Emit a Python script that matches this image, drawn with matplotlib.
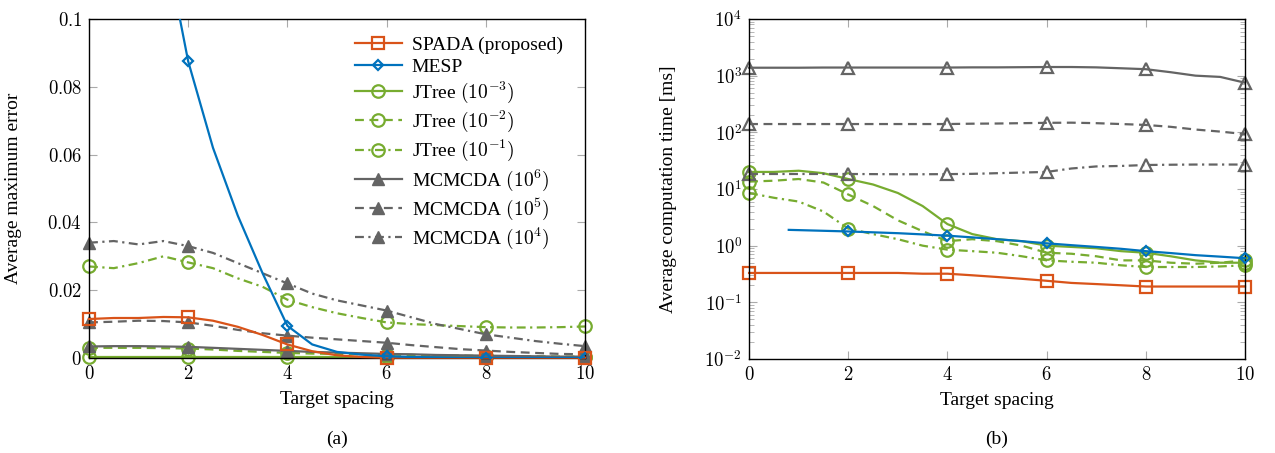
import numpy as np
import matplotlib
matplotlib.use("Agg")
import matplotlib.pyplot as plt
from matplotlib.ticker import FixedLocator, LogLocator, NullFormatter

plt.rcParams['font.family'] = ['Liberation Serif', 'DejaVu Serif']
plt.rcParams['mathtext.fontset'] = 'cm'
plt.rcParams['font.size'] = 14

# colores estilo MATLAB
c_spada = '#D95319'
c_mesp = '#0072BD'
c_jtree = '#77AC30'
c_mcmc = '#646464'

# eje x comun (paso 0.5, marcadores cada 2)
x = [0, 0.5, 1, 1.5, 2, 2.5, 3, 3.5, 4, 4.5, 5, 5.5, 6, 6.5, 7, 7.5, 8, 8.5, 9, 9.5, 10]

# (a) error maximo promedio
err_spada = [0.0115, 0.0118, 0.0118, 0.0121, 0.0120, 0.0110, 0.0092, 0.0068, 0.0040, 0.0020, 0.0008, 0.0003, 0.0001,
             0.0001, 0.0001, 0.0001, 0.0001, 0.0001, 0.0001, 0.0001, 0.0001]
err_mesp = [0.30, 0.24, 0.18, 0.125, 0.0875, 0.062, 0.042, 0.025, 0.0095, 0.0040, 0.0018, 0.0010, 0.0005,
            0.0003, 0.0002, 0.0001, 0.0001, 0.0001, 0.0001, 0.0001, 0.0001]
err_jt3 = [0.0002] * 21
err_jt2 = [0.0030, 0.0030, 0.0030, 0.0029, 0.0028, 0.0025, 0.0021, 0.0018, 0.0015, 0.0013, 0.0012, 0.0011, 0.0010,
           0.0009, 0.0008, 0.0007, 0.0006, 0.0005, 0.0005, 0.0004, 0.0004]
err_jt1 = [0.0270, 0.0265, 0.0280, 0.0300, 0.0282, 0.0265, 0.0235, 0.0210, 0.0172, 0.0150, 0.0132, 0.0118, 0.0105,
           0.0100, 0.0097, 0.0094, 0.0091, 0.0090, 0.0090, 0.0091, 0.0093]
err_mc6 = [0.0034, 0.0035, 0.0035, 0.0034, 0.0033, 0.0030, 0.0027, 0.0024, 0.0021, 0.0018, 0.0016, 0.0014, 0.0012,
           0.0011, 0.0009, 0.0008, 0.0007, 0.0006, 0.0005, 0.0004, 0.0004]
err_mc5 = [0.0105, 0.0107, 0.0110, 0.0109, 0.0105, 0.0095, 0.0083, 0.0073, 0.0066, 0.0060, 0.0055, 0.0050, 0.0045,
           0.0038, 0.0032, 0.0026, 0.0022, 0.0018, 0.0015, 0.0012, 0.0011]
err_mc4 = [0.0340, 0.0345, 0.0335, 0.0345, 0.0330, 0.0310, 0.0280, 0.0250, 0.0220, 0.0190, 0.0170, 0.0155, 0.0140,
           0.0120, 0.0100, 0.0085, 0.0070, 0.0060, 0.0050, 0.0042, 0.0035]

# (b) tiempo de computo promedio [ms]
t_spada = [0.33, 0.33, 0.33, 0.33, 0.33, 0.33, 0.33, 0.32, 0.32, 0.30, 0.28, 0.26, 0.24,
           0.22, 0.21, 0.20, 0.19, 0.19, 0.19, 0.19, 0.19]
x_mesp_t = [0.8, 1, 1.5, 2, 2.5, 3, 3.5, 4, 4.5, 5, 5.5, 6, 6.5, 7, 7.5, 8, 8.5, 9, 9.5, 10]
t_mesp = [1.9, 1.88, 1.83, 1.78, 1.72, 1.66, 1.58, 1.50, 1.40, 1.30, 1.20, 1.10, 1.02, 0.95, 0.88, 0.80,
          0.74, 0.68, 0.64, 0.60]
t_jt3 = [20, 20, 21, 19, 15, 12, 8.5, 5.0, 2.4, 1.6, 1.3, 1.2, 1.0, 0.95, 0.90, 0.80, 0.75, 0.65, 0.55, 0.50, 0.50]
t_jt2 = [13.5, 14, 15, 13, 8.0, 5.0, 2.8, 1.8, 1.2, 1.3, 1.2, 1.0, 0.75, 0.72, 0.65, 0.55, 0.55, 0.50, 0.48, 0.50, 0.55]
t_jt1 = [8.5, 7.0, 6.0, 4.0, 2.0, 1.6, 1.3, 1.0, 0.85, 0.80, 0.75, 0.65, 0.55, 0.52, 0.50, 0.45, 0.42, 0.42, 0.42, 0.43, 0.45]
t_mc6 = [1380, 1380, 1380, 1390, 1390, 1390, 1390, 1390, 1390, 1400, 1400, 1410, 1420, 1420, 1400, 1350, 1300,
         1150, 1000, 950, 750]
t_mc5 = [140, 140, 140, 140, 140, 140, 140, 140, 140, 142, 143, 145, 147, 148, 145, 140, 135, 125, 112, 103, 93]
t_mc4 = [18.4, 18.4, 18.4, 18.4, 18.4, 18.3, 18.2, 18.2, 18.3, 18.5, 19, 19.5, 20, 23, 25, 25.5, 26.5, 26.8, 27, 27, 27]

labels = ['SPADA (proposed)', 'MESP', r'JTree $(10^{-3})$', r'JTree $(10^{-2})$', r'JTree $(10^{-1})$',
          r'MCMCDA $(10^{6})$', r'MCMCDA $(10^{5})$', r'MCMCDA $(10^{4})$']
xticks = [0, 2, 4, 6, 8, 10]
yticks_err = [0, 0.02, 0.04, 0.06, 0.08, 0.1]
yticks_t = [1e-2, 1e-1, 1e0, 1e1, 1e2, 1e3, 1e4]

dash = (0, (4, 2.5))
dashdot = (0, (4, 2, 1, 2))


def marcas(xs):
    return [abs(v - round(v)) < 1e-9 and int(round(v)) % 2 == 0 for v in xs]


def estilo_ejes(ax):
    ax.tick_params(which='both', direction='in', top=True, right=True, color='#aaaaaa', labelsize=13.5, pad=5)
    ax.tick_params(which='major', length=6)
    ax.tick_params(which='minor', length=3.5)
    for s in ax.spines.values():
        s.set_linewidth(1.0)
    ax.set_xlim(0, 10)
    ax.set_xticks(xticks)
    ax.set_xticklabels(['$%d$' % v for v in xticks])
    ax.set_xlabel('Target spacing', fontsize=14, labelpad=6)


fig = plt.figure(figsize=(12.75, 4.53), dpi=100)
ax1 = fig.add_axes([0.0698, 0.2097, 0.389, 0.7484])
ax2 = fig.add_axes([0.5875, 0.2075, 0.389, 0.7506])

lw = 1.6
ms = 9

# grafica (a)
ax1.plot(x, err_spada, color=c_spada, lw=lw, marker='s', ms=ms, mfc='none', mew=1.6, markevery=marcas(x),
         clip_on=False, label=labels[0], zorder=5)
ax1.plot(x, err_mesp, color=c_mesp, lw=lw, marker='D', ms=5, mfc='none', mew=1.6, markevery=marcas(x),
         label=labels[1], zorder=6)
ax1.plot(x, err_jt3, color=c_jtree, lw=lw, marker='o', ms=ms, mfc='none', mew=1.6, markevery=marcas(x),
         clip_on=False, label=labels[2])
ax1.plot(x, err_jt2, color=c_jtree, lw=lw, ls=dash, marker='o', ms=ms, mfc='none', mew=1.6, markevery=marcas(x),
         clip_on=False, label=labels[3])
ax1.plot(x, err_jt1, color=c_jtree, lw=lw, ls=dashdot, marker='o', ms=ms, mfc='none', mew=1.6, markevery=marcas(x),
         clip_on=False, label=labels[4])
ax1.plot(x, err_mc6, color=c_mcmc, lw=lw, marker='^', ms=ms, mfc=c_mcmc, markevery=marcas(x),
         clip_on=False, label=labels[5])
ax1.plot(x, err_mc5, color=c_mcmc, lw=lw, ls=dash, marker='^', ms=ms, mfc=c_mcmc, markevery=marcas(x),
         clip_on=False, label=labels[6])
ax1.plot(x, err_mc4, color=c_mcmc, lw=lw, ls=dashdot, marker='^', ms=ms, mfc=c_mcmc, markevery=marcas(x),
         clip_on=False, label=labels[7])
estilo_ejes(ax1)
ax1.set_ylim(0, 0.1)
ax1.set_yticks(yticks_err)
ax1.set_yticklabels(['$0$', '$0.02$', '$0.04$', '$0.06$', '$0.08$', '$0.1$'])
ax1.set_ylabel('Average maximum error', fontsize=14, labelpad=18)
leg = ax1.legend(loc='upper right', frameon=False, fontsize=14, handlelength=2.4, labelspacing=0.2,
                 borderaxespad=0.5, handletextpad=0.5, bbox_to_anchor=(0.99, 1.0))

# grafica (b)
ax2.plot(x, t_spada, color=c_spada, lw=lw, marker='s', ms=ms, mfc='none', mew=1.6, markevery=marcas(x), clip_on=False)
ax2.plot(x_mesp_t, t_mesp, color=c_mesp, lw=lw, marker='D', ms=5, mfc='none', mew=1.6,
         markevery=marcas(x_mesp_t), clip_on=False, zorder=6)
ax2.plot(x, t_jt3, color=c_jtree, lw=lw, marker='o', ms=ms, mfc='none', mew=1.6, markevery=marcas(x), clip_on=False)
ax2.plot(x, t_jt2, color=c_jtree, lw=lw, ls=dash, marker='o', ms=ms, mfc='none', mew=1.6, markevery=marcas(x),
         clip_on=False)
ax2.plot(x, t_jt1, color=c_jtree, lw=lw, ls=dashdot, marker='o', ms=ms, mfc='none', mew=1.6, markevery=marcas(x),
         clip_on=False)
ax2.plot(x, t_mc6, color=c_mcmc, lw=lw, marker='^', ms=ms, mfc='none', mew=1.6, markevery=marcas(x), clip_on=False)
ax2.plot(x, t_mc5, color=c_mcmc, lw=lw, ls=dash, marker='^', ms=ms, mfc='none', mew=1.6, markevery=marcas(x),
         clip_on=False)
ax2.plot(x, t_mc4, color=c_mcmc, lw=lw, ls=dashdot, marker='^', ms=ms, mfc='none', mew=1.6, markevery=marcas(x),
         clip_on=False)
ax2.set_yscale('log')
estilo_ejes(ax2)
ax2.set_ylim(1e-2, 1e4)
ax2.yaxis.set_major_locator(FixedLocator(yticks_t))
ax2.set_yticklabels([r'$10^{%d}$' % int(np.log10(v)) for v in yticks_t])
ax2.yaxis.set_minor_locator(LogLocator(base=10, subs=np.arange(2, 10), numticks=20))
ax2.yaxis.set_minor_formatter(NullFormatter())
ax2.set_ylabel('Average computation time [ms]', fontsize=14, labelpad=20)

fig.text(0.2643, 0.03, '(a)', ha='center', va='center', fontsize=14)
fig.text(0.782, 0.03, '(b)', ha='center', va='center', fontsize=14)

fig.savefig('out.png', dpi=100)
